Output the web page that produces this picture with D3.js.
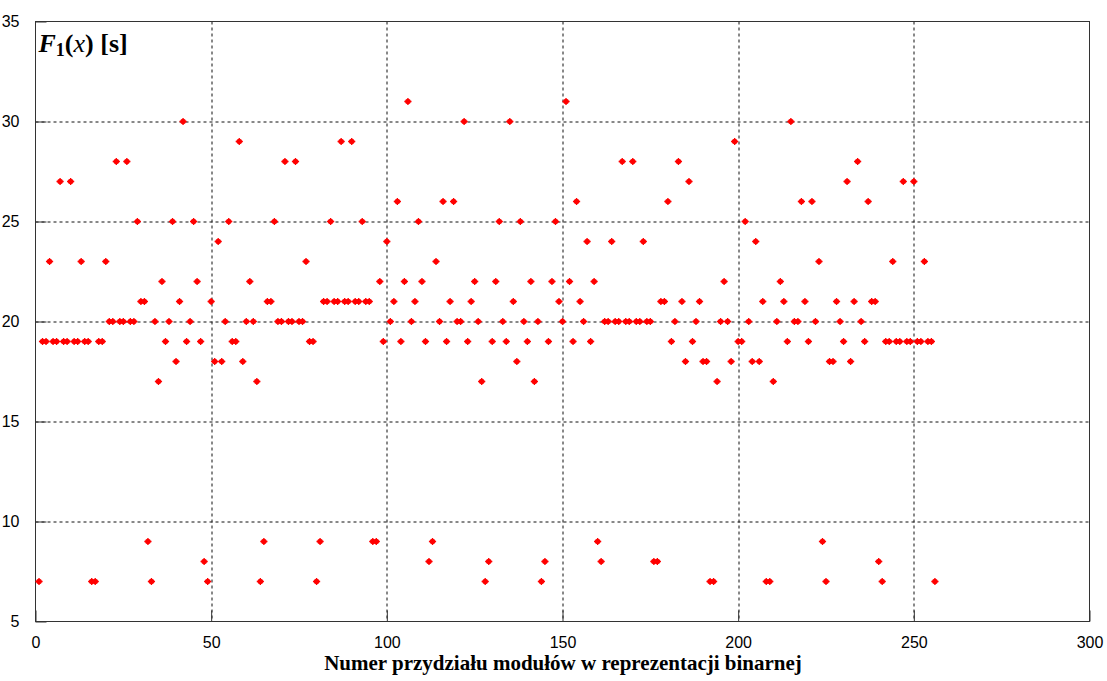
<!DOCTYPE html>
<html>
<head>
<meta charset="utf-8">
<script src="https://cdn.jsdelivr.net/npm/d3@7"></script>
<style>
  body { margin: 0; background: #fff; }
  svg { display: block; }
</style>
</head>
<body>
<div id="chart"></div>
<script>
/* F1(x) per module assignment number - scatter */

// values for assignment numbers 1..256, in blocks of 16
const f1Values = [
  7,19,19,23,19,19,27,19,19,27,19,19,23,19,19,7,
  7,19,19,23,20,20,28,20,20,28,20,20,25,21,21,9,
  7,20,17,22,19,20,25,18,21,30,19,20,25,22,19,8,
  7,21,18,24,18,20,25,19,19,29,18,20,22,20,17,7,
  9,21,21,25,20,20,28,20,20,28,20,20,23,19,19,7,
  9,21,21,25,21,21,29,21,21,29,21,21,25,21,21,9,
  9,22,19,24,20,21,26,19,22,31,20,21,25,22,19,8,
  9,23,20,26,19,21,26,20,20,30,19,21,22,20,17,7,
  8,19,22,25,20,19,30,21,18,25,20,19,22,17,20,7,
  8,19,22,25,21,20,31,22,19,26,21,20,24,19,22,9,
  8,20,20,24,20,20,28,20,20,28,20,20,24,20,20,8,
  8,21,21,26,19,20,28,21,18,27,19,20,21,18,18,7,
  7,17,20,22,20,18,29,19,19,25,20,18,24,18,21,7,
  7,17,20,22,21,19,30,20,20,26,21,19,26,20,23,9,
  7,18,18,21,20,19,27,18,21,28,20,19,26,21,21,8,
  7,19,19,23,19,19,27,19,19,27,19,19,23,19,19,7
];
const assignmentNumbers = f1Values.map((_, i) => i + 1);

const xTicks = [0, 50, 100, 150, 200, 250, 300];
const yTicks = [5, 10, 15, 20, 25, 30, 35];
const xLabel = 'Numer przydziału modułów w reprezentacji binarnej';

const width = 1107, height = 681;
const margin = { top: 21.5, right: 17.5, bottom: 59.5, left: 35.5 };
const innerW = width - margin.left - margin.right;
const innerH = height - margin.top - margin.bottom;

const svg = d3.select('#chart')
  .append('svg')
  .attr('width', width)
  .attr('height', height);

const x = d3.scaleLinear().domain([0, 300]).range([0, innerW]);
const y = d3.scaleLinear().domain([5, 35]).range([innerH, 0]);

const g = svg.append('g')
  .attr('transform', `translate(${margin.left},${margin.top})`);

// grid
g.append('g')
  .selectAll('line')
  .data(xTicks.slice(1, -1))
  .enter()
  .append('line')
  .attr('x1', d => Math.round(x(d)) + 0.5)
  .attr('x2', d => Math.round(x(d)) + 0.5)
  .attr('y1', 0)
  .attr('y2', innerH)
  .attr('stroke', '#111')
  .attr('stroke-width', 1)
  .attr('stroke-dasharray', '3,3');

g.append('g')
  .selectAll('line')
  .data(yTicks.slice(1, -1))
  .enter()
  .append('line')
  .attr('x1', 0)
  .attr('x2', innerW)
  .attr('y1', d => Math.round(y(d)) + 0.5)
  .attr('y2', d => Math.round(y(d)) + 0.5)
  .attr('stroke', '#111')
  .attr('stroke-width', 1)
  .attr('stroke-dasharray', '3,3');

// axes, ticks pointing inward
const tickLen = 11;
const xAxis = d3.axisBottom(x).tickValues(xTicks).tickSize(-tickLen).tickPadding(tickLen + 4);
const yAxis = d3.axisLeft(y).tickValues(yTicks).tickSize(-tickLen).tickPadding(tickLen + 5);

const xg = g.append('g')
  .attr('transform', `translate(0,${innerH})`)
  .call(xAxis);
const yg = g.append('g').call(yAxis);

[xg, yg].forEach(a => {
  a.select('.domain').remove();
  a.selectAll('line').attr('stroke', '#333');
  a.selectAll('text')
    .attr('fill', '#000')
    .style('font-family', 'Liberation Sans, Arial, sans-serif')
    .style('font-size', '16px');
});

// box
g.append('rect')
  .attr('x', 0)
  .attr('y', 0)
  .attr('width', innerW)
  .attr('height', innerH)
  .attr('fill', 'none')
  .attr('stroke', '#333')
  .attr('stroke-width', 1);

// points
const pts = g.append('g')
  .selectAll('g')
  .data(assignmentNumbers)
  .enter()
  .append('g')
  .attr('transform', (d, i) => `translate(${x(d)},${y(f1Values[i])})`);

pts.append('circle')
  .attr('r', 2.8)
  .attr('fill', '#ff0000');
pts.append('path')
  .attr('d', 'M-3.6,0H3.6M0,-3.6V3.6')
  .attr('stroke', '#ff0000')
  .attr('stroke-width', 1.3);

// y label inside the plot
const yl = svg.append('text')
  .attr('x', margin.left + 3)
  .attr('y', 52)
  .style('font-family', 'Liberation Serif, Times New Roman, serif')
  .style('font-weight', 'bold')
  .style('font-size', '26px')
  .attr('fill', '#000');
yl.append('tspan').style('font-style', 'italic').text('F');
yl.append('tspan').attr('dy', 4).style('font-size', '18px').text('1');
yl.append('tspan').attr('dy', -4).text('(');
yl.append('tspan').style('font-style', 'italic').style('font-weight', 'normal').text('x');
yl.append('tspan').text(') [s]');

// x label
svg.append('text')
  .attr('x', 563)
  .attr('y', 670)
  .attr('text-anchor', 'middle')
  .style('font-family', 'Liberation Serif, Times New Roman, serif')
  .style('font-weight', 'bold')
  .style('font-size', '21px')
  .attr('fill', '#000')
  .text(xLabel);
</script>
</body>
</html>
